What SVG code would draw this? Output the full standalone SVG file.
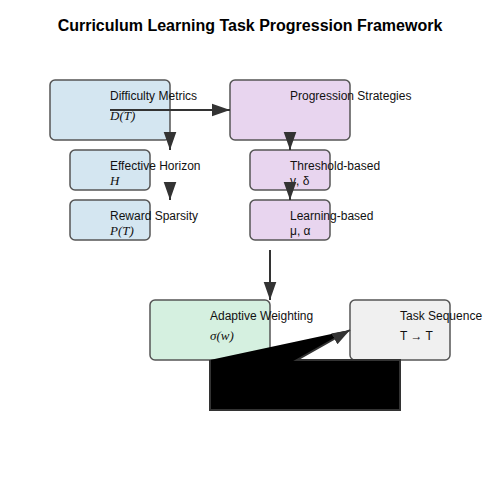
<svg xmlns="http://www.w3.org/2000/svg" width="500" height="500" viewBox="0 0 500 500">
<defs>
<style>
.box{stroke:#555;stroke-width:1.5}
.blue{fill:#d4e6f1}
.purple{fill:#e8d5ef}
.green{fill:#d5f0e0}
.grey{fill:#f0f0f0}
.lbl{font-family:"Liberation Sans",Arial,sans-serif;font-size:12px;fill:#111}
.math{font-family:"Liberation Serif","Times New Roman",serif;font-style:italic;font-size:13px;fill:#111}
.title{font-family:"Liberation Sans",Arial,sans-serif;font-size:16px;font-weight:bold;fill:#000}
.conn{stroke:#333;stroke-width:2;fill:none}
</style>
<marker id="arr" viewBox="0 0 10 7" refX="10" refY="3.5" markerWidth="9" markerHeight="7" markerUnits="strokeWidth" orient="auto">
<path d="M0,0 L10,3.5 L0,7 Z" fill="#333"/>
</marker>
</defs>
<rect width="500" height="500" fill="#fff"/>
<text class="title" x="250" y="31" text-anchor="middle">Curriculum Learning Task Progression Framework</text>

<g id="difficulty">
<rect class="box blue" x="50" y="80" width="120" height="60" rx="5"/>
<text class="lbl" x="110" y="100">Difficulty Metrics</text>
<text class="math" x="110" y="120">D(T)</text>
</g>
<g id="horizon">
<rect class="box blue" x="70" y="150" width="80" height="40" rx="5"/>
<text class="lbl" x="110" y="170">Effective Horizon</text>
<text class="math" x="110" y="185">H</text>
</g>
<g id="sparsity">
<rect class="box blue" x="70" y="200" width="80" height="40" rx="5"/>
<text class="lbl" x="110" y="220">Reward Sparsity</text>
<text class="math" x="110" y="235">P(T)</text>
</g>
<g id="progression">
<rect class="box purple" x="230" y="80" width="120" height="60" rx="5"/>
<text class="lbl" x="290" y="100">Progression Strategies</text>
</g>
<g id="threshold">
<rect class="box purple" x="250" y="150" width="80" height="40" rx="5"/>
<text class="lbl" x="290" y="170">Threshold-based</text>
<text class="lbl" x="290" y="185">γ, δ</text>
</g>
<g id="learning">
<rect class="box purple" x="250" y="200" width="80" height="40" rx="5"/>
<text class="lbl" x="290" y="220">Learning-based</text>
<text class="lbl" x="290" y="235">μ, α</text>
</g>
<g id="adaptive">
<rect class="box green" x="150" y="300" width="120" height="60" rx="5"/>
<text class="lbl" x="210" y="320">Adaptive Weighting</text>
<text class="math" x="210" y="340">σ(w)</text>
</g>
<g id="tasks">
<rect class="box grey" x="350" y="300" width="100" height="60" rx="5"/>
<text class="lbl" x="400" y="320">Task Sequence</text>
<text class="lbl" x="400" y="340">T → T</text>
</g>

<g id="connectors">
<path class="conn" d="M110,110 L230,110" marker-end="url(#arr)"/>
<path class="conn" d="M170,140 L170,150" marker-end="url(#arr)"/>
<path class="conn" d="M170,190 L170,200" marker-end="url(#arr)"/>
<path class="conn" d="M290,140 L290,150" marker-end="url(#arr)"/>
<path class="conn" d="M290,190 L290,200" marker-end="url(#arr)"/>
<path class="conn" d="M270,250 L270,300" marker-end="url(#arr)"/>
<path d="M210,360 L210,410 L400,410 L400,360 L297,360 L350,330" fill="#000" stroke="#333" stroke-width="2" marker-end="url(#arr)"/>
</g>
</svg>
